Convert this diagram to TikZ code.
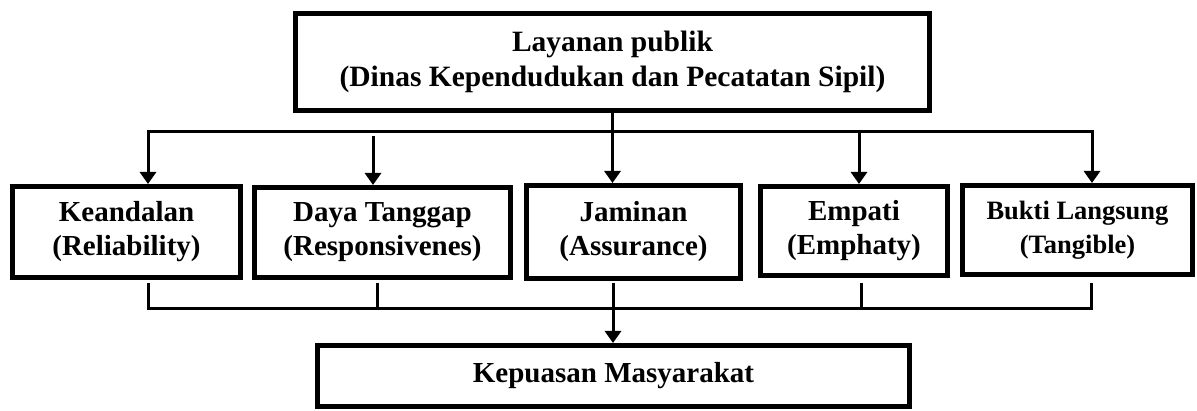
\documentclass[tikz,border=0pt]{standalone}
\usepackage{fontspec}
\setmainfont{Liberation Serif}
\usetikzlibrary{arrows.meta}

\begin{document}
\begin{tikzpicture}[x=1pt, y=-1pt,
      panel/.style={draw, line width=5pt, align=center, inner sep=0pt,
                    font=\bfseries\fontsize{29}{34}\selectfont},
      link/.style={line width=3pt},
      feed/.style={-{Triangle[width=16pt, length=12pt]}, line width=3pt},
      twofeed/.style={{Triangle[width=16pt, length=12pt]}-{Triangle[width=16pt, length=12pt]}, line width=3pt}]
    \useasboundingbox (0,0) rectangle (1197,411);
    % ----- service on top
    \node[panel, minimum width=634pt, minimum height=97.5pt,
          font=\bfseries\fontsize{29.5}{35}\selectfont] (top) at (612.5,61.9)
      {Layanan publik\\(Dinas Kependudukan dan Pecatatan Sipil)};
    % ----- five dimensions
    \node[panel, minimum width=228pt, minimum height=91pt] (kean) at (126.5,232)
      {Keandalan\\(Reliability)};
    \node[panel, minimum width=256pt, minimum height=90pt] (daya) at (382.5,232.5)
      {Daya Tanggap\\(Responsivenes)};
    \node[panel, minimum width=214pt, minimum height=93pt] (jam) at (633.5,232)
      {Jaminan\\(Assurance)};
    \node[panel, minimum width=187pt, minimum height=89pt] (emp) at (854,231)
      {Empati\\(Emphaty)};
    \node[panel, minimum width=230pt, minimum height=89pt,
          font=\bfseries\fontsize{26.5}{34}\selectfont] (bukti) at (1077.5,230)
      {Bukti Langsung\\(Tangible)};
    % ----- result at the bottom
    \node[panel, minimum width=592pt, minimum height=61pt] (kep) at (613.5,376)
      {Kepuasan Masyarakat};
    % ----- upper bus
    \coordinate (busL) at (148,132);
    \coordinate (busR) at (1092,132);
    \coordinate (dayaIn) at (373,136);
    \coordinate (empIn) at (859,132);
    \draw[twofeed] (kean.north -| busL) -- (busL) -- (busR) -- (bukti.north -| busR);
    \draw[feed] (dayaIn) -- (daya.north -| dayaIn);
    \draw[feed] (empIn) -- (emp.north -| empIn);
    \draw[feed] (top.south) -- (top.south |- jam.north);
    % ----- lower bus
    \coordinate (keanOut) at (148,283);
    \coordinate (dayaOut) at (377,283);
    \coordinate (jamOut) at (613,283);
    \coordinate (empOut) at (861,283);
    \coordinate (buktiOut) at (1091,283);
    \coordinate (baseL) at (148,309);
    \coordinate (baseR) at (1091,309);
    \draw[link] (keanOut) -- (baseL) -- (baseR) -- (buktiOut);
    \draw[link] (dayaOut) -- (dayaOut |- baseL);
    \draw[link] (empOut) -- (empOut |- baseL);
    \draw[feed] (jamOut) -- (jamOut |- kep.north);
  \end{tikzpicture}
\end{document}
